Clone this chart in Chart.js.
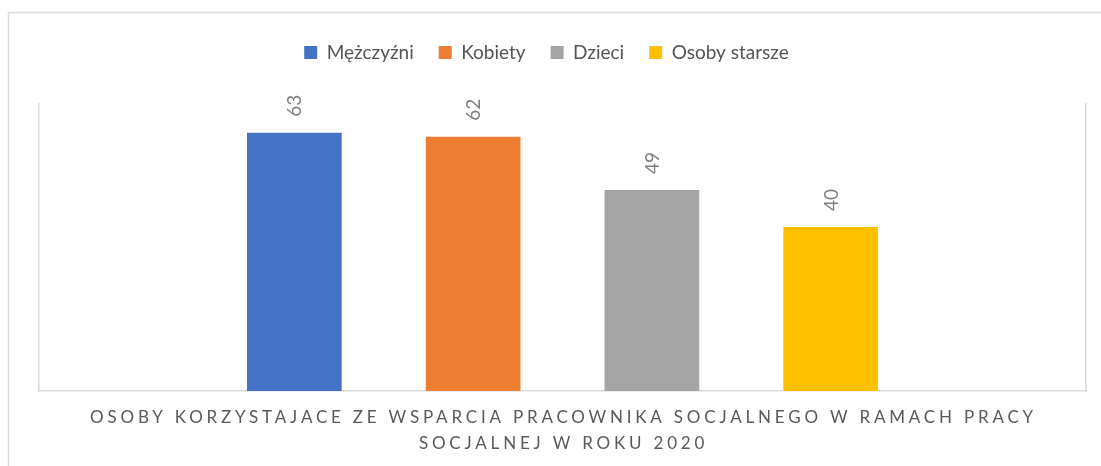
<!DOCTYPE html>
<html>
<head>
<meta charset="utf-8">
<script src="https://cdn.jsdelivr.net/npm/chart.js@4.4.0/dist/chart.umd.min.js"></script>
<style>
  html, body { margin: 0; padding: 0; background: #fff; }
  #wrap { width: 1101px; height: 466px; position: relative; }
</style>
</head>
<body>
<div id="wrap"><canvas id="chart" width="1101" height="466"></canvas></div>
<script>
const categories = [''];
const seriesNames = ['Mężczyźni', 'Kobiety', 'Dzieci', 'Osoby starsze'];
const seriesValues = [63, 62, 49, 40];
const seriesColors = ['#4472C4', '#ED7D31', '#A5A5A5', '#FFC000'];
const captionLines = ['OSOBY KORZYSTAJACE ZE WSPARCIA PRACOWNIKA SOCJALNEGO W RAMACH PRACY', 'SOCJALNEJ W ROKU 2020'];
const yMax = 70;

const FONT = 'Lato, "Open Sans", sans-serif';
const frameColor = '#d9d9d9';

// outer frame like the Excel chart border
const outerFrame = {
  id: 'outerFrame',
  beforeDraw(chart) {
    const c = chart.ctx;
    c.save();
    c.fillStyle = '#fff';
    c.fillRect(0, 0, chart.width, chart.height);
    c.strokeStyle = frameColor;
    c.lineWidth = 1.5;
    c.strokeRect(8.5, 12.5, 2000, 2000);
    c.restore();
  }
};

// extra room below the legend, and nudge it a bit left like Excel does
const legendTweak = {
  id: 'legendTweak',
  beforeInit(chart) {
    const lg = chart.legend;
    const fit = lg.fit;
    lg.fit = function() {
      fit.bind(lg)();
      this.height += 32;
    };
    const draw = lg.draw;
    lg.draw = function() {
      const c = chart.ctx;
      c.save();
      c.translate(-16, 0);
      draw.bind(lg)();
      c.restore();
    };
  }
};

// rotated value labels above each bar
const valueLabels = {
  id: 'valueLabels',
  afterDatasetsDraw(chart) {
    const c = chart.ctx;
    c.save();
    c.font = '19px ' + FONT;
    c.fillStyle = '#7f7f7f';
    c.textAlign = 'left';
    c.textBaseline = 'middle';
    chart.data.datasets.forEach((ds, i) => {
      const meta = chart.getDatasetMeta(i);
      meta.data.forEach((bar, j) => {
        c.save();
        c.translate(bar.x + 1, bar.y - 16);
        c.rotate(-Math.PI / 2);
        c.fillText(String(ds.data[j]), 0, 0);
        c.restore();
      });
    });
    c.restore();
  }
};

// spaced-out axis caption under the plot
const caption = {
  id: 'caption',
  afterDraw(chart) {
    const c = chart.ctx;
    const area = chart.chartArea;
    const cx = (area.left + area.right) / 2;
    c.save();
    c.font = '17px ' + FONT;
    c.fillStyle = '#595959';
    c.textAlign = 'center';
    c.textBaseline = 'middle';
    c.letterSpacing = '3.8px';
    captionLines.forEach((line, k) => {
      c.fillText(line, cx + 1, 418 + k * 26);
    });
    c.restore();
  }
};

new Chart(document.getElementById('chart'), {
  type: 'bar',
  data: {
    labels: categories,
    datasets: seriesNames.map((name, i) => ({
      label: name,
      data: [seriesValues[i]],
      backgroundColor: seriesColors[i],
      categoryPercentage: 0.683,
      barPercentage: 0.53
    }))
  },
  options: {
    responsive: false,
    animation: false,
    layout: { padding: { top: 18, left: 39, right: 15, bottom: 75 } },
    plugins: {
      legend: {
        position: 'top',
        labels: {
          font: { family: FONT, size: 19 },
          color: '#555555',
          boxWidth: 13,
          boxHeight: 13,
          padding: 25
        }
      },
      tooltip: { enabled: false }
    },
    scales: {
      x: {
        grid: { display: false, drawTicks: false },
        ticks: { display: false },
        border: { display: true, color: frameColor, width: 1.5 }
      },
      y: {
        min: 0, max: yMax,
        grid: { display: false, drawTicks: false },
        ticks: { display: false },
        border: { display: true, color: frameColor, width: 1.5 }
      },
      y2: {
        position: 'right',
        grid: { display: false, drawTicks: false },
        ticks: { display: false },
        border: { display: true, color: frameColor, width: 1.5 }
      }
    }
  },
  plugins: [outerFrame, legendTweak, valueLabels, caption]
});
</script>
</body>
</html>
